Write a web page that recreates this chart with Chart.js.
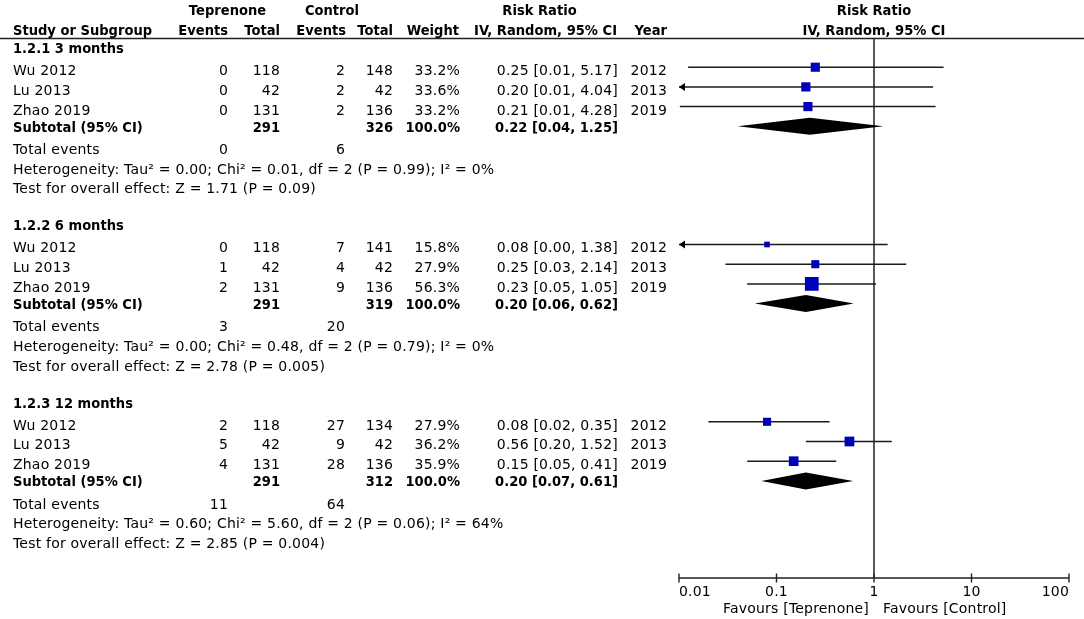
<!DOCTYPE html>
<html>
<head>
<meta charset="utf-8">
<script src="https://cdn.jsdelivr.net/npm/chart.js@4"></script>
<style>
html, body { margin: 0; padding: 0; background: #fff; }
</style>
</head>
<body>
<canvas id="forest" width="1084" height="619"></canvas>
<script>
// ---- data ----
const groups = ["1.2.1 3 months", "1.2.2 6 months", "1.2.3 12 months"];
const studies = ["Wu 2012", "Lu 2013", "Zhao 2019"];
const years = [2012, 2013, 2019];

const tepEvents = [[0, 0, 0], [0, 1, 2], [2, 5, 4]];
const tepTotal = [[118, 42, 131], [118, 42, 131], [118, 42, 131]];
const ctlEvents = [[2, 2, 2], [7, 4, 9], [27, 9, 28]];
const ctlTotal = [[148, 42, 136], [141, 42, 136], [134, 42, 136]];
const weights = [[33.2, 33.6, 33.2], [15.8, 27.9, 56.3], [27.9, 36.2, 35.9]];

const riskRatio = [[0.25, 0.20, 0.21], [0.08, 0.25, 0.23], [0.08, 0.56, 0.15]];
const lower = [[0.0124, 0.0099, 0.0102], [0.004, 0.03, 0.05], [0.02, 0.20, 0.05]];
const upper = [[5.17, 4.04, 4.28], [1.38, 2.14, 1.05], [0.35, 1.52, 0.41]];

const subTep = [291, 291, 291];
const subCtl = [326, 319, 312];
const subRR = [0.22, 0.20, 0.20];
const subLo = [0.04, 0.06, 0.07];
const subHi = [1.25, 0.62, 0.61];

const totTep = [0, 3, 11];
const totCtl = [6, 20, 64];
const tau2 = ["0.00", "0.00", "0.60"];
const chi2 = ["0.01", "0.48", "5.60"];
const hetP = ["0.99", "0.79", "0.06"];
const i2 = [0, 0, 64];
const zVal = ["1.71", "2.78", "2.85"];
const zP = ["0.09", "0.005", "0.004"];

const xTicks = [0.01, 0.1, 1, 10, 100];
const tickLabels = ["0.01", "0.1", "1", "10", "100"];
const favLeft = "Favours [Teprenone]";
const favRight = "Favours [Control]";

const xMin = 0.01, xMax = 100;
const ROWS = 9; // rows per subgroup block

const FONT = "'DejaVu Sans'";
const BLUE = "#0000bb";
const INK = "#000";

// table column anchors (right edges unless noted)
const COL = { label: 13, tepE: 228, tepT: 280, ctlE: 345, ctlT: 393, weight: 460, ci: 618, year: 667 };

// one scatter point per study, drawn on the log / row scales
const points = [];
const sizes = [];
groups.forEach((g, gi) => {
    studies.forEach((s, si) => {
        points.push({ x: riskRatio[gi][si], y: gi * ROWS + 1 + si });
        const side = 2.5 + 0.2 * weights[gi][si];
        sizes.push(side / Math.SQRT2);
    });
});

function fmt(v) { return v.toFixed(2); }

function text(ctx, str, x, y, align, bold) {
    ctx.save();
    ctx.font = (bold ? "bold " : "") + "14px " + FONT;
    ctx.letterSpacing = bold ? "0px" : "0.2px";
    ctx.textAlign = align;
    ctx.textBaseline = "alphabetic";
    ctx.translate(x, y);
    if (bold) ctx.scale(0.935, 1);
    ctx.fillText(str, 0, 0);
    ctx.restore();
}

const forestPlugin = {
    id: "forest",
    beforeDatasetsDraw(chart) {
        const { ctx, chartArea, scales: { x, y } } = chart;
        ctx.save();
        ctx.strokeStyle = "#222";
        ctx.lineWidth = 1.5;

        // line of no effect
        const x1 = x.getPixelForValue(1);
        ctx.beginPath();
        ctx.moveTo(x1, chartArea.top);
        ctx.lineTo(x1, chartArea.bottom);
        ctx.stroke();

        // confidence intervals
        ctx.lineWidth = 1.5;
        ctx.strokeStyle = "#1a1a1a";
        ctx.fillStyle = "#000";
        groups.forEach((g, gi) => {
            studies.forEach((s, si) => {
                const py = y.getPixelForValue(gi * ROWS + 1 + si);
                const lo = lower[gi][si], hi = upper[gi][si];
                const xl = x.getPixelForValue(Math.max(lo, xMin));
                const xh = x.getPixelForValue(Math.min(hi, xMax));
                ctx.beginPath();
                ctx.moveTo(xl, py);
                ctx.lineTo(xh, py);
                ctx.stroke();
                if (lo < xMin) {
                    ctx.beginPath();
                    ctx.moveTo(xl, py);
                    ctx.lineTo(xl + 6, py - 4);
                    ctx.lineTo(xl + 6, py + 4);
                    ctx.closePath();
                    ctx.fill();
                }
            });
        });
        ctx.restore();
    },
    afterDatasetsDraw(chart) {
        const { ctx, chartArea, scales: { x, y } } = chart;
        ctx.save();

        // subtotal diamonds
        ctx.fillStyle = "#000";
        groups.forEach((g, gi) => {
            const py = y.getPixelForValue(gi * ROWS + 4);
            ctx.beginPath();
            ctx.moveTo(x.getPixelForValue(subLo[gi]), py);
            ctx.lineTo(x.getPixelForValue(subRR[gi]), py - 8.5);
            ctx.lineTo(x.getPixelForValue(subHi[gi]), py);
            ctx.lineTo(x.getPixelForValue(subRR[gi]), py + 8.5);
            ctx.closePath();
            ctx.fill();
        });

        // header rule
        ctx.strokeStyle = "#222";
        ctx.lineWidth = 1.5;
        ctx.beginPath();
        ctx.moveTo(0, chartArea.top + 0.5);
        ctx.lineTo(1084, chartArea.top + 0.5);
        ctx.stroke();

        // x axis
        const ay = chartArea.bottom;
        ctx.lineWidth = 1.4;
        ctx.beginPath();
        ctx.moveTo(x.getPixelForValue(xTicks[0]), ay);
        ctx.lineTo(x.getPixelForValue(xTicks[xTicks.length - 1]), ay);
        xTicks.forEach(t => {
            const px = x.getPixelForValue(t);
            ctx.moveTo(px, ay - 4.5);
            ctx.lineTo(px, ay + 4.5);
        });
        ctx.stroke();

        ctx.fillStyle = INK;
        xTicks.forEach((t, i) => {
            const align = i === 0 ? "left" : (i === xTicks.length - 1 ? "right" : "center");
            text(ctx, tickLabels[i], x.getPixelForValue(t), ay + 18, align, false);
        });
        const x1 = x.getPixelForValue(1);
        text(ctx, favLeft, x1 - 5, ay + 35, "right", false);
        text(ctx, favRight, x1 + 9, ay + 35, "left", false);

        // column headers
        const h1 = 15.2, h2 = 34.5;
        text(ctx, "Teprenone", 227.5, h1, "center", true);
        text(ctx, "Control", 332, h1, "center", true);
        text(ctx, "Risk Ratio", 539.5, h1, "center", true);
        text(ctx, "Risk Ratio", x1, h1, "center", true);
        text(ctx, "Study or Subgroup", COL.label, h2, "left", true);
        text(ctx, "Events", COL.tepE, h2, "right", true);
        text(ctx, "Total", COL.tepT, h2, "right", true);
        text(ctx, "Events", COL.ctlE + 1, h2, "right", true);
        text(ctx, "Total", COL.ctlT, h2, "right", true);
        text(ctx, "Weight", COL.weight - 1, h2, "right", true);
        text(ctx, "IV, Random, 95% CI", COL.ci - 1, h2, "right", true);
        text(ctx, "Year", COL.year, h2, "right", true);
        text(ctx, "IV, Random, 95% CI", x1, h2, "center", true);

        // table body
        const ty = r => y.getPixelForValue(r) + 8;      // regular rows
        const tb = r => y.getPixelForValue(r) + 5.6;    // bold rows
        groups.forEach((g, gi) => {
            const base = gi * ROWS;
            text(ctx, g, COL.label, tb(base), "left", true);
            studies.forEach((s, si) => {
                const yy = ty(base + 1 + si);
                text(ctx, s, COL.label, yy, "left", false);
                text(ctx, String(tepEvents[gi][si]), COL.tepE, yy, "right", false);
                text(ctx, String(tepTotal[gi][si]), COL.tepT, yy, "right", false);
                text(ctx, String(ctlEvents[gi][si]), COL.ctlE, yy, "right", false);
                text(ctx, String(ctlTotal[gi][si]), COL.ctlT, yy, "right", false);
                text(ctx, weights[gi][si].toFixed(1) + "%", COL.weight, yy, "right", false);
                const ci = fmt(riskRatio[gi][si]) + " [" + fmt(lower[gi][si]) + ", " + fmt(upper[gi][si]) + "]";
                text(ctx, ci, COL.ci, yy, "right", false);
                text(ctx, String(years[si]), COL.year, yy, "right", false);
            });
            const sy = tb(base + 4);
            text(ctx, "Subtotal (95% CI)", COL.label, sy, "left", true);
            text(ctx, String(subTep[gi]), COL.tepT, sy, "right", true);
            text(ctx, String(subCtl[gi]), COL.ctlT, sy, "right", true);
            text(ctx, "100.0%", COL.weight, sy, "right", true);
            text(ctx, fmt(subRR[gi]) + " [" + fmt(subLo[gi]) + ", " + fmt(subHi[gi]) + "]", COL.ci, sy, "right", true);

            const ey = ty(base + 5);
            text(ctx, "Total events", COL.label, ey, "left", false);
            text(ctx, String(totTep[gi]), COL.tepE, ey, "right", false);
            text(ctx, String(totCtl[gi]), COL.ctlE, ey, "right", false);

            text(ctx, "Heterogeneity: Tau\u00b2 = " + tau2[gi] + "; Chi\u00b2 = " + chi2[gi] +
                ", df = 2 (P = " + hetP[gi] + "); I\u00b2 = " + i2[gi] + "%", COL.label, ty(base + 6), "left", false);
            text(ctx, "Test for overall effect: Z = " + zVal[gi] + " (P = " + zP[gi] + ")", COL.label, ty(base + 7), "left", false);
        });

        ctx.restore();
    }
};

new Chart(document.getElementById("forest"), {
    type: "scatter",
    data: {
        datasets: [{
            data: points,
            pointStyle: "rect",
            pointRadius: sizes,
            pointHoverRadius: sizes,
            backgroundColor: BLUE,
            borderWidth: 0
        }]
    },
    options: {
        responsive: false,
        animation: false,
        events: [],
        layout: { padding: { left: 679, right: 15, top: 38, bottom: 41 } },
        plugins: { legend: { display: false }, tooltip: { enabled: false } },
        scales: {
            x: { type: "logarithmic", min: xMin, max: xMax, display: false },
            y: { type: "linear", min: -0.482, max: 26.929, reverse: true, display: false }
        }
    },
    plugins: [forestPlugin]
});
</script>
</body>
</html>
